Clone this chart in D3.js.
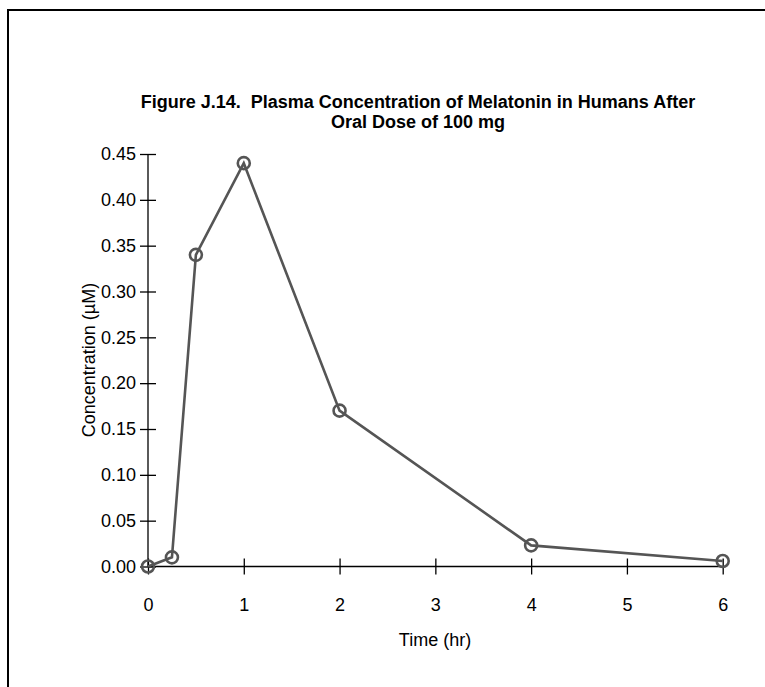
<!DOCTYPE html>
<html><head><meta charset="utf-8">
<script src="https://cdn.jsdelivr.net/npm/d3@7"></script>
<style>body{margin:0;background:#fff}svg{display:block}</style>
</head><body>
<script>
const times = [0, 0.25, 0.5, 1, 2, 4, 6];
const concentrations = [0, 0.01, 0.34, 0.44, 0.17, 0.023, 0.006];
const xTicks = [0, 1, 2, 3, 4, 5, 6];
const yTicks = [0, 0.05, 0.10, 0.15, 0.20, 0.25, 0.30, 0.35, 0.40, 0.45];
const titleLines = ["Figure J.14.  Plasma Concentration of Melatonin in Humans After", "Oral Dose of 100 mg"];
const xLabel = "Time (hr)";
const yLabel = "Concentration (\u00b5M)";

const W = 765, H = 687;
const svg = d3.select("body").append("svg").attr("width", W).attr("height", H);
svg.append("rect").attr("x", 8).attr("y", 10).attr("width", 800).attr("height", 800)
  .attr("fill", "none").attr("stroke", "#000").attr("stroke-width", 2);

const font = "Liberation Sans, Arial, sans-serif";
const fs = 18;
const x = d3.scaleLinear().domain([0, 6]).range([148, 722.7]);
const y = d3.scaleLinear().domain([0, 0.45]).range([566.5, 154]);

const t = svg.append("text").attr("text-anchor", "middle").attr("font-family", font)
  .attr("font-weight", "bold").attr("font-size", 18).attr("fill", "#000")
  .style("white-space", "pre");
titleLines.forEach((s, i) => t.append("tspan").attr("x", 418).attr("y", 108 + i * 19.5).text(s));

const xAxis = svg.append("g").attr("transform", `translate(0,${y(0)})`)
  .call(d3.axisBottom(x).tickValues(xTicks).tickFormat(d3.format("d")).tickSize(8).tickPadding(24));
xAxis.selectAll(".tick line").attr("y1", -8);
const yAxis = svg.append("g").attr("transform", `translate(${x(0)},0)`)
  .call(d3.axisLeft(y).tickValues(yTicks).tickFormat(d3.format(".2f")).tickSize(8).tickPadding(4));
yAxis.selectAll(".tick line").attr("x1", 8).attr("x2", -8);
[xAxis, yAxis].forEach(g => {
  g.select(".domain").attr("stroke", "#000").attr("stroke-width", 1.3);
  g.selectAll(".tick line").attr("stroke", "#000").attr("stroke-width", 1.3);
  g.selectAll(".tick text").attr("font-family", font).attr("font-size", fs).attr("fill", "#000");
});
xAxis.select(".domain").attr("d", `M${x(0)},0H${x(6)}`);
yAxis.select(".domain").attr("d", `M0,${y(0)}V${y(0.45)}`);

svg.append("text").attr("x", 435).attr("y", 646).attr("text-anchor", "middle")
  .attr("font-family", font).attr("font-size", fs).text(xLabel);
svg.append("text").attr("transform", "translate(95,360) rotate(-90)").attr("text-anchor", "middle")
  .attr("font-family", font).attr("font-size", fs).text(yLabel);

const pts = times.map((d, i) => [d, concentrations[i]]);
svg.append("path").datum(pts).attr("fill", "none").attr("stroke", "#555").attr("stroke-width", 2.6)
  .attr("d", d3.line().x(d => x(d[0])).y(d => y(d[1])));
svg.selectAll("circle.pt").data(pts).join("circle").attr("class", "pt")
  .attr("cx", d => x(d[0])).attr("cy", d => y(d[1])).attr("r", 6)
  .attr("fill", "none").attr("stroke", "#555").attr("stroke-width", 2.6);
</script>
</body></html>
